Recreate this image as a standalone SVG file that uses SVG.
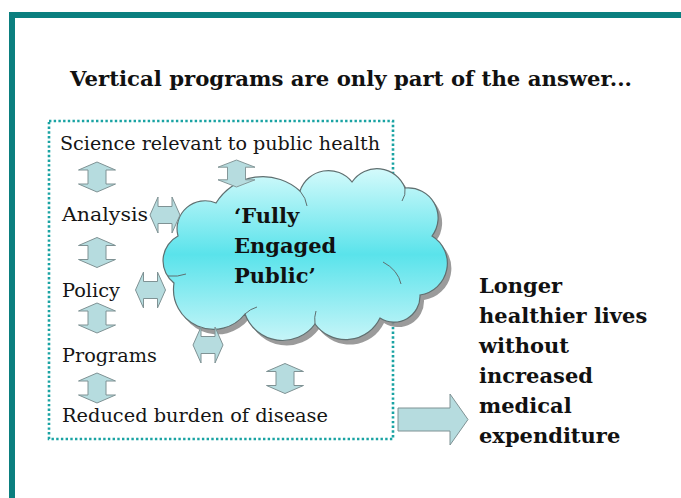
<svg xmlns="http://www.w3.org/2000/svg" width="681" height="498" viewBox="0 0 681 498">
<style>
.lbl{font-family:"DejaVu Serif","Liberation Serif",serif;font-size:18px;fill:#151515}
.bold{font-family:"DejaVu Serif","Liberation Serif",serif;font-weight:bold;font-size:21px;fill:#111}
.arr{fill:#b6dcdf;stroke:#7f9294;stroke-width:1}
</style>
<defs>
<path id="va" d="M0,-15 L18.5,-7 L9,-7 L9,7 L18.5,7 L0,15 L-18.5,7 L-9,7 L-9,-7 L-18.5,-7 Z"/>
<path id="ha" d="M-15,0 L-7,-18 L-7,-8.5 L7,-8.5 L7,-18 L15,0 L7,18 L7,8.5 L-7,8.5 L-7,18 Z"/>
<linearGradient id="cg" x1="0" y1="0" x2="0" y2="1">
<stop offset="0" stop-color="#d4fafb"/>
<stop offset="0.5" stop-color="#5ae3eb"/>
<stop offset="1" stop-color="#c6f5f8"/>
</linearGradient>
<path id="cloudp" d="M174,283 A28,28 0 0 1 178,236 A28,28 0 0 1 216,203 A55,55 0 0 1 300,191 A30,30 0 0 1 352,182 A30,30 0 0 1 405,188 A30,30 0 0 1 432,236 A32,32 0 0 1 420,295 A26,26 0 0 1 380,318 A38,38 0 0 1 315,324 A40,40 0 0 1 245,314 A40,40 0 0 1 174,283 Z"/>
</defs>
<g id="frame">
<path d="M12,498 V15 H681" fill="none" stroke="#0b7f7f" stroke-width="6"/>
</g>
<text x="70" y="86" font-family="'DejaVu Serif','Liberation Serif',serif" font-weight="bold" font-size="20" fill="#111" textLength="562" lengthAdjust="spacingAndGlyphs">Vertical programs are only part of the answer...</text>
<g id="box">
<rect x="49" y="121" width="344" height="318" fill="none" stroke="#1aa3a3" stroke-width="2.6" stroke-dasharray="2.4 2.3"/>
</g>
<g id="labels">
<g id="science"><text class="lbl" x="60" y="150" textLength="320" lengthAdjust="spacingAndGlyphs">Science relevant to public health</text></g>
<g id="analysis"><text class="lbl" x="62" y="221" textLength="86" lengthAdjust="spacingAndGlyphs">Analysis</text></g>
<g id="policy"><text class="lbl" x="62" y="297" textLength="58" lengthAdjust="spacingAndGlyphs">Policy</text></g>
<g id="programs"><text class="lbl" x="62" y="362" textLength="95" lengthAdjust="spacingAndGlyphs">Programs</text></g>
<g id="reduced"><text class="lbl" x="62" y="422" textLength="266" lengthAdjust="spacingAndGlyphs">Reduced burden of disease</text></g>
</g>
<g id="cloud">
<use href="#cloudp" transform="translate(4,5)" fill="#8a8a8a" opacity="0.85"/>
<use href="#cloudp" fill="url(#cg)" stroke="#5f6f70" stroke-width="1.2"/>
<path d="M383,262 Q398,270 401,284" fill="none" stroke="#5f6f70" stroke-width="1"/>
<path d="M168,276 Q178,277 186,274" fill="none" stroke="#5f6f70" stroke-width="1"/>
<path d="M300,191 Q306,198 307,206" fill="none" stroke="#5f6f70" stroke-width="1"/>
<path d="M405,188 Q406,195 402,201" fill="none" stroke="#5f6f70" stroke-width="1"/>
<path d="M245,314 Q250,309 257,307" fill="none" stroke="#5f6f70" stroke-width="1"/>
<path d="M315,324 Q314,317 316,311" fill="none" stroke="#5f6f70" stroke-width="1"/>
<text class="bold" x="234" y="223">‘Fully</text>
<text class="bold" x="234" y="253">Engaged</text>
<text class="bold" x="234" y="283">Public’</text>
</g>
<g id="connectors">
<use href="#va" class="arr" x="97" y="177"/>
<use href="#va" class="arr" x="97" y="252.5"/>
<use href="#va" class="arr" x="97" y="318"/>
<use href="#va" class="arr" x="97" y="388"/>
<use href="#va" class="arr" transform="translate(236.5,173.5) scale(1,0.9)"/>
<use href="#va" class="arr" x="285" y="378.5"/>
<use href="#ha" class="arr" x="165" y="215"/>
<use href="#ha" class="arr" x="150.5" y="290"/>
<use href="#ha" class="arr" x="208" y="345"/>
<path class="arr" d="M398,408 H450 V394 L468,419.5 L450,445 V431 H398 Z"/>
</g>
<g id="outcome">
<text class="bold" x="479" y="293">Longer</text>
<text class="bold" x="479" y="323">healthier lives</text>
<text class="bold" x="479" y="353">without</text>
<text class="bold" x="479" y="383">increased</text>
<text class="bold" x="479" y="413">medical</text>
<text class="bold" x="479" y="443">expenditure</text>
</g>
</svg>
